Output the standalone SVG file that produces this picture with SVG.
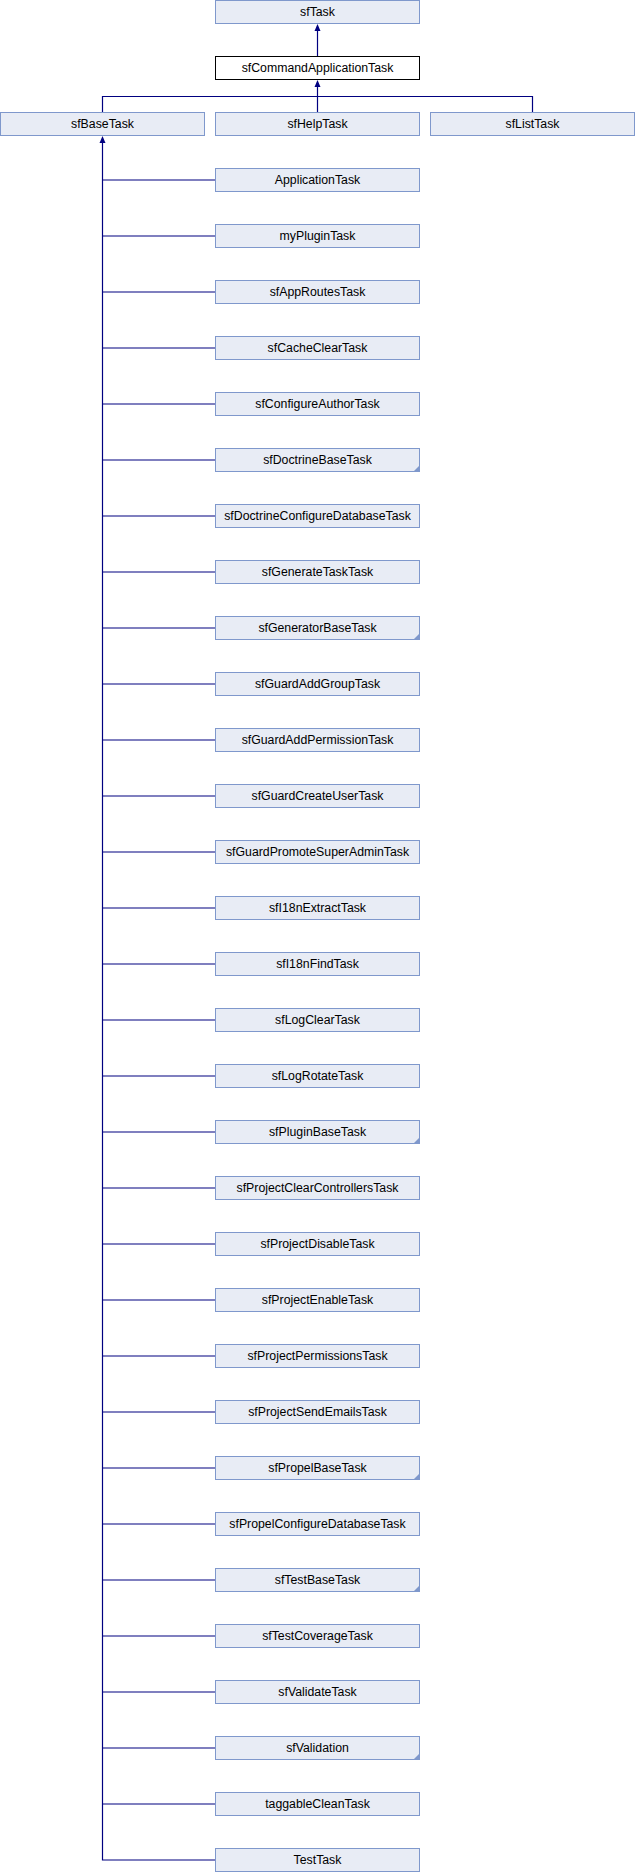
<svg xmlns="http://www.w3.org/2000/svg" width="635" height="1872" viewBox="0 0 635 1872">
<style>
.n rect{fill:#e8ecf5;stroke:#7f98cc;stroke-width:1}
.n.main rect{fill:#ffffff;stroke:#000000}
.n text{font-family:"Liberation Sans",Arial,sans-serif;font-size:12.3px;fill:#000;text-anchor:middle}
.c{fill:#7f98cc}
.e path{fill:none;stroke:#000080;stroke-width:1.2}
.e polygon{fill:#000080}
</style>
<rect width="635" height="1872" fill="#ffffff"/>
<g id="connectors" class="e">
<path d="M317.5,56.5V28"/>
<polygon points="317.5,24 314.5,31 320.5,31"/>
<path d="M317.5,112.5V84 M102.5,112.5V96.5H532.5V112.5"/>
<polygon points="317.5,80 314.5,87 320.5,87"/>
<path d="M102.5,140V1860H215"/>
<polygon points="102.5,136 99.5,143 105.5,143"/>
<path d="M102.5,180H215M102.5,236H215M102.5,292H215M102.5,348H215M102.5,404H215M102.5,460H215M102.5,516H215M102.5,572H215M102.5,628H215M102.5,684H215M102.5,740H215M102.5,796H215M102.5,852H215M102.5,908H215M102.5,964H215M102.5,1020H215M102.5,1076H215M102.5,1132H215M102.5,1188H215M102.5,1244H215M102.5,1300H215M102.5,1356H215M102.5,1412H215M102.5,1468H215M102.5,1524H215M102.5,1580H215M102.5,1636H215M102.5,1692H215M102.5,1748H215M102.5,1804H215"/>
</g>
<g id="sfTask" class="n"><rect x="215.5" y="0.5" width="204" height="23"/><text x="317.5" y="16">sfTask</text></g>
<g id="sfCommandApplicationTask" class="n main"><rect x="215.5" y="56.5" width="204" height="23"/><text x="317.5" y="72">sfCommandApplicationTask</text></g>
<g id="sfBaseTask" class="n"><rect x="0.5" y="112.5" width="204" height="23"/><text x="102.5" y="128">sfBaseTask</text></g>
<g id="sfHelpTask" class="n"><rect x="215.5" y="112.5" width="204" height="23"/><text x="317.5" y="128">sfHelpTask</text></g>
<g id="sfListTask" class="n"><rect x="430.5" y="112.5" width="204" height="23"/><text x="532.5" y="128">sfListTask</text></g>
<g id="ApplicationTask" class="n"><rect x="215.5" y="168.5" width="204" height="23"/><text x="317.5" y="184">ApplicationTask</text></g>
<g id="myPluginTask" class="n"><rect x="215.5" y="224.5" width="204" height="23"/><text x="317.5" y="240">myPluginTask</text></g>
<g id="sfAppRoutesTask" class="n"><rect x="215.5" y="280.5" width="204" height="23"/><text x="317.5" y="296">sfAppRoutesTask</text></g>
<g id="sfCacheClearTask" class="n"><rect x="215.5" y="336.5" width="204" height="23"/><text x="317.5" y="352">sfCacheClearTask</text></g>
<g id="sfConfigureAuthorTask" class="n"><rect x="215.5" y="392.5" width="204" height="23"/><text x="317.5" y="408">sfConfigureAuthorTask</text></g>
<g id="sfDoctrineBaseTask" class="n"><rect x="215.5" y="448.5" width="204" height="23"/><polygon class="c" points="420,465 420,472 413,472"/><text x="317.5" y="464">sfDoctrineBaseTask</text></g>
<g id="sfDoctrineConfigureDatabaseTask" class="n"><rect x="215.5" y="504.5" width="204" height="23"/><text x="317.5" y="520">sfDoctrineConfigureDatabaseTask</text></g>
<g id="sfGenerateTaskTask" class="n"><rect x="215.5" y="560.5" width="204" height="23"/><text x="317.5" y="576">sfGenerateTaskTask</text></g>
<g id="sfGeneratorBaseTask" class="n"><rect x="215.5" y="616.5" width="204" height="23"/><polygon class="c" points="420,633 420,640 413,640"/><text x="317.5" y="632">sfGeneratorBaseTask</text></g>
<g id="sfGuardAddGroupTask" class="n"><rect x="215.5" y="672.5" width="204" height="23"/><text x="317.5" y="688">sfGuardAddGroupTask</text></g>
<g id="sfGuardAddPermissionTask" class="n"><rect x="215.5" y="728.5" width="204" height="23"/><text x="317.5" y="744">sfGuardAddPermissionTask</text></g>
<g id="sfGuardCreateUserTask" class="n"><rect x="215.5" y="784.5" width="204" height="23"/><text x="317.5" y="800">sfGuardCreateUserTask</text></g>
<g id="sfGuardPromoteSuperAdminTask" class="n"><rect x="215.5" y="840.5" width="204" height="23"/><text x="317.5" y="856">sfGuardPromoteSuperAdminTask</text></g>
<g id="sfI18nExtractTask" class="n"><rect x="215.5" y="896.5" width="204" height="23"/><text x="317.5" y="912">sfI18nExtractTask</text></g>
<g id="sfI18nFindTask" class="n"><rect x="215.5" y="952.5" width="204" height="23"/><text x="317.5" y="968">sfI18nFindTask</text></g>
<g id="sfLogClearTask" class="n"><rect x="215.5" y="1008.5" width="204" height="23"/><text x="317.5" y="1024">sfLogClearTask</text></g>
<g id="sfLogRotateTask" class="n"><rect x="215.5" y="1064.5" width="204" height="23"/><text x="317.5" y="1080">sfLogRotateTask</text></g>
<g id="sfPluginBaseTask" class="n"><rect x="215.5" y="1120.5" width="204" height="23"/><polygon class="c" points="420,1137 420,1144 413,1144"/><text x="317.5" y="1136">sfPluginBaseTask</text></g>
<g id="sfProjectClearControllersTask" class="n"><rect x="215.5" y="1176.5" width="204" height="23"/><text x="317.5" y="1192">sfProjectClearControllersTask</text></g>
<g id="sfProjectDisableTask" class="n"><rect x="215.5" y="1232.5" width="204" height="23"/><text x="317.5" y="1248">sfProjectDisableTask</text></g>
<g id="sfProjectEnableTask" class="n"><rect x="215.5" y="1288.5" width="204" height="23"/><text x="317.5" y="1304">sfProjectEnableTask</text></g>
<g id="sfProjectPermissionsTask" class="n"><rect x="215.5" y="1344.5" width="204" height="23"/><text x="317.5" y="1360">sfProjectPermissionsTask</text></g>
<g id="sfProjectSendEmailsTask" class="n"><rect x="215.5" y="1400.5" width="204" height="23"/><text x="317.5" y="1416">sfProjectSendEmailsTask</text></g>
<g id="sfPropelBaseTask" class="n"><rect x="215.5" y="1456.5" width="204" height="23"/><polygon class="c" points="420,1473 420,1480 413,1480"/><text x="317.5" y="1472">sfPropelBaseTask</text></g>
<g id="sfPropelConfigureDatabaseTask" class="n"><rect x="215.5" y="1512.5" width="204" height="23"/><text x="317.5" y="1528">sfPropelConfigureDatabaseTask</text></g>
<g id="sfTestBaseTask" class="n"><rect x="215.5" y="1568.5" width="204" height="23"/><polygon class="c" points="420,1585 420,1592 413,1592"/><text x="317.5" y="1584">sfTestBaseTask</text></g>
<g id="sfTestCoverageTask" class="n"><rect x="215.5" y="1624.5" width="204" height="23"/><text x="317.5" y="1640">sfTestCoverageTask</text></g>
<g id="sfValidateTask" class="n"><rect x="215.5" y="1680.5" width="204" height="23"/><text x="317.5" y="1696">sfValidateTask</text></g>
<g id="sfValidation" class="n"><rect x="215.5" y="1736.5" width="204" height="23"/><polygon class="c" points="420,1753 420,1760 413,1760"/><text x="317.5" y="1752">sfValidation</text></g>
<g id="taggableCleanTask" class="n"><rect x="215.5" y="1792.5" width="204" height="23"/><text x="317.5" y="1808">taggableCleanTask</text></g>
<g id="TestTask" class="n"><rect x="215.5" y="1848.5" width="204" height="23"/><text x="317.5" y="1864">TestTask</text></g>
</svg>
